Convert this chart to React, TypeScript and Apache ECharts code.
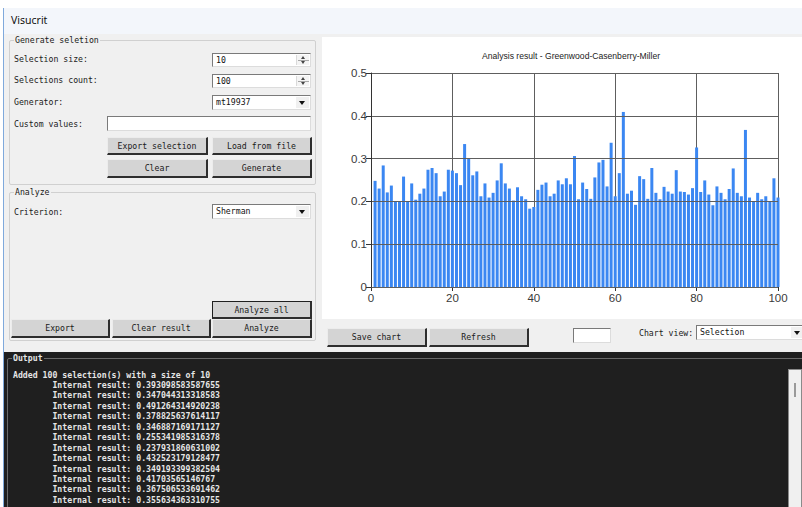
import React, { useEffect, useRef } from "react";
import * as echarts from "echarts";

// ---- chart data ----
const CHART_TITLE = "Analysis result - Greenwood-Casenberry-Miller";
const BAR_VALUES = [
  0.248, 0.230, 0.284, 0.221, 0.237, 0.200, 0.200, 0.258, 0.200, 0.242,
  0.204, 0.218, 0.230, 0.274, 0.278, 0.266, 0.212, 0.223, 0.274, 0.272,
  0.266, 0.238, 0.334, 0.300, 0.261, 0.270, 0.212, 0.242, 0.209, 0.220,
  0.249, 0.289, 0.242, 0.230, 0.202, 0.233, 0.212, 0.205, 0.183, 0.187,
  0.227, 0.239, 0.244, 0.212, 0.218, 0.249, 0.240, 0.254, 0.240, 0.306,
  0.205, 0.244, 0.229, 0.206, 0.256, 0.291, 0.297, 0.235, 0.337, 0.212,
  0.266, 0.409, 0.218, 0.225, 0.192, 0.259, 0.252, 0.206, 0.278, 0.220,
  0.205, 0.234, 0.223, 0.218, 0.273, 0.223, 0.222, 0.216, 0.231, 0.326,
  0.222, 0.249, 0.216, 0.191, 0.235, 0.220, 0.205, 0.229, 0.277, 0.220,
  0.212, 0.367, 0.209, 0.200, 0.220, 0.205, 0.212, 0.200, 0.254, 0.209,
];
const BAR_INDICES = BAR_VALUES.map((_, i) => i + 1);

// ---- UI text data ----
const OUTPUT_HEADER = "Added 100 selection(s) with a size of 10";
const INTERNAL_RESULTS = [
  "0.393098583587655",
  "0.347044313318583",
  "0.491264314920238",
  "0.378825637614117",
  "0.346887169171127",
  "0.255341985316378",
  "0.237931860631002",
  "0.432523179128477",
  "0.349193399382504",
  "0.41703565146767",
  "0.367506533691462",
  "0.355634363310755",
];

const MONO = '"DejaVu Sans Mono", "Liberation Mono", monospace';
const SANS = '"Liberation Sans", Arial, sans-serif';

const abs = (l: number, t: number, w: number, h: number): React.CSSProperties => ({
  position: "absolute",
  left: l,
  top: t,
  width: w,
  height: h,
  boxSizing: "border-box",
});

function Label({ x, y, text, color = "#1a1a1a", bold = false }: { x: number; y: number; text: string; color?: string; bold?: boolean }) {
  return (
    <div
      style={{
        position: "absolute",
        left: x,
        top: y - 6,
        height: 12,
        lineHeight: "12px",
        fontFamily: MONO,
        fontSize: 8.2,
        fontWeight: bold ? "bold" : "normal",
        color,
        whiteSpace: "pre",
      }}
    >
      {text}
    </div>
  );
}

function Button({ x, y, w, h, text, focused = false }: { x: number; y: number; w: number; h: number; text: string; focused?: boolean }) {
  return (
    <div
      style={{
        ...abs(x, y, w, h),
        background: "#d4d4d4",
        borderTop: focused ? "1px solid #202020" : "1px solid #ececec",
        borderLeft: focused ? "1px solid #202020" : "1px solid #ececec",
        borderRight: "2px solid #2e2e2e",
        borderBottom: "2px solid #2e2e2e",
        fontFamily: MONO,
        fontSize: 8.2,
        color: "#1a1a1a",
        display: "flex",
        alignItems: "center",
        justifyContent: "center",
      }}
    >
      {text}
    </div>
  );
}

function TextBox({ x, y, w, h, text = "" }: { x: number; y: number; w: number; h: number; text?: string }) {
  return (
    <div
      style={{
        ...abs(x, y, w, h),
        background: "#ffffff",
        borderTop: "1px solid #7a7a7a",
        borderLeft: "1px solid #7a7a7a",
        borderRight: "1px solid #dcdcdc",
        borderBottom: "1px solid #dcdcdc",
        fontFamily: MONO,
        fontSize: 8.2,
        color: "#111",
        paddingLeft: 3,
        lineHeight: `${h - 2}px`,
        whiteSpace: "pre",
      }}
    >
      {text}
    </div>
  );
}

function Spin({ x, y, w, h, text }: { x: number; y: number; w: number; h: number; text: string }) {
  return (
    <div style={{ position: "absolute", left: 0, top: 0 }}>
      <TextBox x={x} y={y} w={w} h={h} text={text} />
      <div
        style={{
          ...abs(x + w - 15, y + 2, 13, h - 4),
          background: "#f4f4f4",
          borderLeft: "1px solid #dadada",
        }}
      >
        <div style={{ position: "absolute", left: 3.5, top: 1, width: 0, height: 0, borderLeft: "2.5px solid transparent", borderRight: "2.5px solid transparent", borderBottom: "3px solid #444" }} />
        <div style={{ position: "absolute", left: 1, top: (h - 4) / 2 - 0.5, width: 11, height: 1, background: "#a8a8a8" }} />
        <div style={{ position: "absolute", left: 3.5, bottom: 1, width: 0, height: 0, borderLeft: "2.5px solid transparent", borderRight: "2.5px solid transparent", borderTop: "3px solid #444" }} />
      </div>
    </div>
  );
}

function Combo({ x, y, w, h, text }: { x: number; y: number; w: number; h: number; text: string }) {
  return (
    <div style={{ position: "absolute", left: 0, top: 0 }}>
      <TextBox x={x} y={y} w={w} h={h} text={text} />
      <div style={{ ...abs(x + w - 15, y + 2, 13, h - 4), background: "#f0f0f0" }}>
        <div
          style={{
            position: "absolute",
            left: 3,
            top: (h - 4) / 2 - 2,
            width: 0,
            height: 0,
            borderLeft: "3.5px solid transparent",
            borderRight: "3.5px solid transparent",
            borderTop: "4px solid #111",
          }}
        />
      </div>
    </div>
  );
}

function GroupBox({ x, y, w, h, title, border = "#d0d0d0", bg = "#f0f0f0", color = "#1a1a1a", bold = false }: { x: number; y: number; w: number; h: number; title: string; border?: string; bg?: string; color?: string; bold?: boolean }) {
  return (
    <div style={{ position: "absolute", left: 0, top: 0 }}>
      <div style={{ ...abs(x, y, w, h), border: `1px solid ${border}`, borderRadius: 2 }} />
      <div
        style={{
          position: "absolute",
          left: x + 5,
          top: y - 6,
          height: 12,
          lineHeight: "12px",
          padding: "0 1px",
          background: bg,
          fontFamily: MONO,
          fontSize: 8.2,
          fontWeight: bold ? "bold" : "normal",
          color,
          whiteSpace: "pre",
        }}
      >
        {title}
      </div>
    </div>
  );
}

function Chart() {
  const ref = useRef<HTMLDivElement>(null);
  useEffect(() => {
    if (!ref.current) return;
    const chart = echarts.init(ref.current, undefined, { renderer: "svg" });
    const gridColor = "#5e5e5e";
    chart.setOption({
      animation: false,
      backgroundColor: "#ffffff",
      title: {
        text: CHART_TITLE,
        left: 244,
        textAlign: "center",
        top: 9,
        textStyle: { fontFamily: SANS, fontSize: 8.6, fontWeight: "normal", color: "#222" },
      },
      grid: { left: 49, right: 24, top: 36, bottom: 32, containLabel: false },
      xAxis: {
        type: "value",
        min: 0,
        max: 100,
        interval: 20,
        z: 0,
        axisLine: { show: true, lineStyle: { color: "#333", width: 1 } },
        axisTick: { show: true, length: 4, lineStyle: { color: "#333" } },
        axisLabel: { fontFamily: SANS, fontSize: 11.5, color: "#3a3a3a", margin: 5 },
        splitLine: { show: true, lineStyle: { color: gridColor, width: 1 } },
      },
      yAxis: {
        type: "value",
        min: 0,
        max: 0.5,
        interval: 0.1,
        z: 3,
        axisLine: { show: true, lineStyle: { color: "#333", width: 1 } },
        axisTick: { show: true, length: 5, lineStyle: { color: "#333" } },
        axisLabel: { fontFamily: SANS, fontSize: 11.5, color: "#3a3a3a", margin: 4 },
        splitLine: { show: true, lineStyle: { color: gridColor, width: 1 } },
      },
      series: [
        {
          type: "bar",
          data: BAR_INDICES.map((x, i) => [x, BAR_VALUES[i]]),
          barWidth: 3,
          itemStyle: { color: "#3b87f2" },
          z: 2,
        },
      ],
    });
    return () => chart.dispose();
  }, []);
  return <div ref={ref} style={{ position: "absolute", left: 322, top: 37, width: 480, height: 282 }} />;
}

export default function App() {
  useEffect(() => {
    document.body.style.margin = "0";
  }, []);
  return (
    <div style={{ position: "fixed", left: 0, top: 0, width: 802, height: 507, overflow: "hidden", background: "#ffffff" }}>
      {/* window body */}
      <div style={{ ...abs(3, 8, 799, 499), background: "#f0f0f0", borderLeft: "1px solid #7fa9dc" }} />
      {/* title bar */}
      <div style={{ ...abs(4, 8, 798, 26), background: "#f3f6fb" }} />
      <div style={{ position: "absolute", left: 11, top: 13, fontFamily: '"Noto Sans", sans-serif', fontSize: 10.5, color: "#111", lineHeight: "14px" }}>Visucrit</div>

      {/* Generate selection group */}
      <GroupBox x={9} y={40} w={307} h={145} title="Generate seletion" />
      <Label x={14} y={59} text="Selection size:" />
      <Spin x={212} y={53} w={99} h={14} text="10" />
      <Label x={14} y={80} text="Selections count:" />
      <Spin x={212} y={74} w={99} h={14} text="100" />
      <Label x={14} y={102} text="Generator:" />
      <Combo x={212} y={95} w={99} h={15} text="mt19937" />
      <Label x={14} y={124} text="Custom values:" />
      <TextBox x={107} y={116} w={204} h={15} />
      <Button x={107} y={137} w={101} h={18} text="Export selection" />
      <Button x={212} y={137} w={100} h={18} text="Load from file" />
      <Button x={107} y={159} w={101} h={19} text="Clear" />
      <Button x={212} y={159} w={100} h={19} text="Generate" />

      {/* Analyze group */}
      <GroupBox x={9} y={192} w={307} h={149} title="Analyze" />
      <Label x={14} y={212} text="Criterion:" />
      <Combo x={212} y={204} w={99} h={15} text="Sherman" />
      <Button x={212} y={301} w={100} h={18} text="Analyze all" focused />
      <Button x={11} y={319} w={99} h={19} text="Export" />
      <Button x={112} y={319} w={99} h={19} text="Clear result" />
      <Button x={212} y={319} w={100} h={19} text="Analyze" />

      {/* chart */}
      <Chart />

      {/* chart controls */}
      <Button x={327} y={328} w={100} h={19} text="Save chart" />
      <Button x={429} y={328} w={100} h={19} text="Refresh" />
      <TextBox x={573} y={328} w={38} h={15} />
      <Label x={639} y={333} text="Chart view:" />
      <Combo x={696} y={325} w={110} h={15} text="Selection" />

      {/* output */}
      <div style={{ ...abs(4, 352, 798, 155), background: "#1f1f1f" }} />
      <GroupBox x={7} y={358} w={800} h={160} title="Output" border="#6a6a6a" bg="#1f1f1f" color="#e6e6e6" bold />
      <Label x={13} y={374.5} text={OUTPUT_HEADER} color="#e6e6e6" bold />
      {INTERNAL_RESULTS.map((r, i) => (
        <Label key={i} x={13} y={374.5 + (i + 1) * 10.45} text={`        Internal result: ${r}`} color="#e6e6e6" bold />
      ))}
      {/* scrollbar */}
      <div style={{ ...abs(788, 369, 14, 140), background: "#f0f0f0", border: "1px solid #8a8a8a" }}>
        <div style={{ position: "absolute", left: 5, top: 13, width: 2, height: 14, background: "#9a9a9a" }} />
      </div>
    </div>
  );
}
